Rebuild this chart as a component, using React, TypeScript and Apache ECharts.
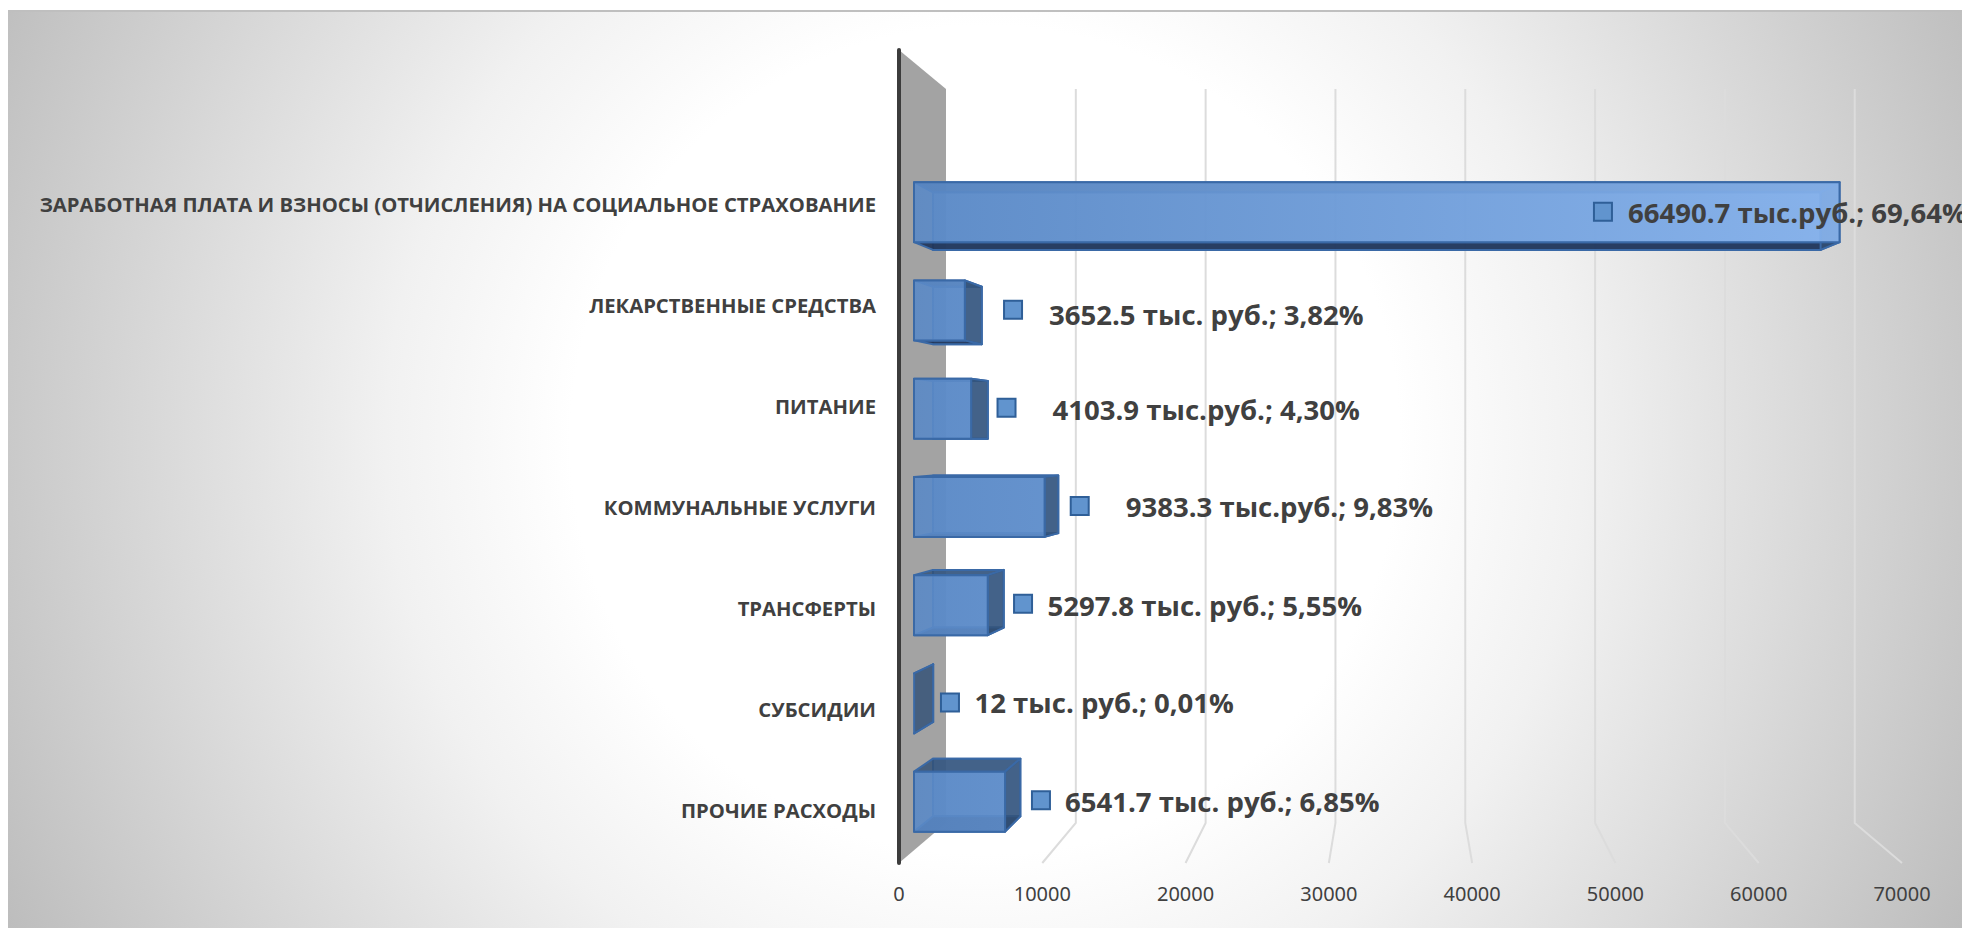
import React, { useEffect, useRef } from "react";
import * as echarts from "echarts";

const categories = [
  "ЗАРАБОТНАЯ ПЛАТА И ВЗНОСЫ (ОТЧИСЛЕНИЯ) НА СОЦИАЛЬНОЕ СТРАХОВАНИЕ",
  "ЛЕКАРСТВЕННЫЕ СРЕДСТВА",
  "ПИТАНИЕ",
  "КОММУНАЛЬНЫЕ УСЛУГИ",
  "ТРАНСФЕРТЫ",
  "СУБСИДИИ",
  "ПРОЧИЕ РАСХОДЫ",
];
const values = [66490.7, 3652.5, 4103.9, 9383.3, 5297.8, 12, 6541.7];
const valueLabels = [
  "66490.7 тыс.руб.; 69,64%",
  "3652.5 тыс. руб.; 3,82%",
  "4103.9 тыс.руб.; 4,30%",
  "9383.3 тыс.руб.; 9,83%",
  "5297.8 тыс. руб.; 5,55%",
  "12 тыс. руб.; 0,01%",
  "6541.7 тыс. руб.; 6,85%",
];
const axisTicks = [0, 10000, 20000, 30000, 40000, 50000, 60000, 70000];

// hand placement of the data labels relative to the bar end: marker dx, text gap, dy
const markerDx = [-245.6, 39.2, 26.4, 26.1, 26.3, 26.8, 26.9];
const textGap = [34, 45, 55, 55, 33.5, 33.5, 33];
const markerDy = [-0.5, -0.7, -1, -1, -1.3, -1, -1.5];
const textDy = [0, 4, 0.5, -0.5, 0, -1, -0.5];

const FONT = "Open Sans";
const TEXT = "#404040";
const VALUE_SCALE = 1.02;

// perspective of the back plane relative to the front plane of the bars
const backX = (x: number) => 933 + (x - 914) * 0.959;
const backY = (y: number) => 221 + (y - 212) * 0.9608;
// back wall relative to the axis plane
const wallX = (x: number) => 946 + (x - 899) * 0.906;

const App = () => {
  const ref = useRef<HTMLDivElement>(null);
  useEffect(() => {
    const chart = echarts.init(ref.current!, null, { renderer: "svg" });
    const frontFill = new echarts.graphic.LinearGradient(
      914, 0, 1840, 0,
      [
        { offset: 0, color: "rgba(90,137,198,0.9)" },
        { offset: 1, color: "rgba(136,180,238,0.9)" },
      ],
      true
    );
    const edge = "#3a69a6";
    chart.setOption({
      animation: false,
      graphic: [
        {
          type: "rect",
          z: -10,
          silent: true,
          shape: { x: 8, y: 10, width: 1954, height: 918 },
          style: {
            fill: new echarts.graphic.RadialGradient(
              985, 440, 1090,
              [
                { offset: 0, color: "#ffffff" },
                { offset: 0.38, color: "#ffffff" },
                { offset: 0.55, color: "#f1f1f1" },
                { offset: 0.75, color: "#dadada" },
                { offset: 1, color: "#bdbdbd" },
              ],
              true
            ),
          },
        },
        {
          type: "line",
          z: -9,
          silent: true,
          shape: { x1: 8, y1: 11, x2: 1962, y2: 11 },
          style: { stroke: "#bfbfbf", lineWidth: 2 },
        },
      ],
      grid: [
        { left: 899, width: 1003, top: 50, height: 813, containLabel: false },
        { left: 899, width: 1003, top: 153.5, height: 707, containLabel: false },
        { left: 914, width: 974.4, top: 163, height: 687.75, containLabel: false },
      ],
      xAxis: [
        {
          gridIndex: 0,
          type: "value",
          min: 0,
          max: 70000,
          interval: 10000,
          axisLine: { show: false },
          axisTick: { show: false },
          splitLine: { show: false },
          axisLabel: {
            margin: 20,
            fontFamily: "Noto Sans",
            fontSize: 20,
            color: TEXT,
            formatter: (v: number) => String(v),
          },
        },
        { gridIndex: 1, type: "value", min: 0, max: 70000, show: false },
        { gridIndex: 2, type: "value", min: 0, max: 70000, show: false },
      ],
      yAxis: [
        {
          gridIndex: 0,
          type: "value",
          min: 0,
          max: 1,
          z: 3,
          axisLine: { show: true, lineStyle: { color: "#3c3c3c", width: 4 } },
          axisTick: { show: false },
          axisLabel: { show: false },
          splitLine: { show: false },
        },
        {
          gridIndex: 1,
          type: "category",
          inverse: true,
          data: categories,
          axisLine: { show: false },
          axisTick: { show: false },
          axisLabel: {
            margin: 23,
            fontFamily: FONT,
            fontWeight: "bold",
            fontSize: 20.25,
            color: TEXT,
          },
        },
        { gridIndex: 2, type: "category", inverse: true, data: categories, show: false },
      ],
      series: [
        {
          type: "custom",
          name: "wall",
          xAxisIndex: 0,
          yAxisIndex: 0,
          z: 1,
          silent: true,
          clip: false,
          data: axisTicks.map((t) => [t, 0]),
          renderItem: (_: any, api: any) => {
            const [x, yBottom] = api.coord([api.value(0), 0]);
            const [, yTop] = api.coord([api.value(0), 1]);
            const bx = wallX(x);
            const backTop = yTop + 39;
            const backBottom = yBottom - 40;
            if (api.value(0) === 0) {
              return {
                type: "polygon",
                shape: {
                  points: [
                    [x, yTop],
                    [bx, backTop],
                    [bx, backBottom],
                    [x, yBottom],
                  ],
                },
                style: { fill: "#a3a3a3" },
              };
            }
            return {
              type: "polyline",
              shape: {
                points: [
                  [bx, backTop],
                  [bx, backBottom],
                  [x, yBottom],
                ],
              },
              style: { fill: "none", stroke: "#dcdcdc", lineWidth: 2 },
            };
          },
        },
        {
          type: "custom",
          name: "bars",
          xAxisIndex: 2,
          yAxisIndex: 2,
          z: 4,
          silent: true,
          clip: false,
          data: values.map((v, i) => [v, i]),
          renderItem: (_: any, api: any) => {
            const [xEnd, yMid] = api.coord([api.value(0), api.value(1)]);
            const [x0] = api.coord([0, api.value(1)]);
            const half = 30;
            const ft = yMid - half;
            const fb = yMid + half;
            const bx0 = backX(x0);
            const bx1 = backX(xEnd);
            const bt = backY(ft);
            const bb = backY(fb);
            const poly = (pts: number[][], fill: any) => ({
              type: "polygon",
              shape: { points: pts },
              style: { fill, stroke: edge, lineWidth: 2, lineJoin: "round" },
            });
            const side = "rgba(50,80,118,0.82)";
            const under = "rgba(32,52,88,0.92)";
            const children: any[] = [
              poly(
                [[bx0, bt], [bx1, bt], [bx1, bb], [bx0, bb]],
                "rgba(96,142,204,0.7)"
              ),
              poly([[x0, ft], [xEnd, ft], [bx1, bt], [bx0, bt]], side),
              poly([[x0, fb], [xEnd, fb], [bx1, bb], [bx0, bb]], under),
              poly([[xEnd, ft], [bx1, bt], [bx1, bb], [xEnd, fb]], side),
            ];
            if (api.value(0) > 100) {
              children.push(poly([[x0, ft], [xEnd, ft], [xEnd, fb], [x0, fb]], frontFill));
            }
            return { type: "group", children };
          },
        },
        {
          type: "custom",
          name: "labels",
          xAxisIndex: 2,
          yAxisIndex: 2,
          z: 5,
          silent: true,
          clip: false,
          data: values.map((v, i) => [v, i]),
          renderItem: (p: any, api: any) => {
            const i = p.dataIndex;
            const [xEnd, yMid] = api.coord([api.value(0), api.value(1)]);
            const mx = xEnd + markerDx[i];
            return {
              type: "group",
              children: [
                {
                  type: "rect",
                  shape: { x: mx, y: yMid + markerDy[i] - 9, width: 18, height: 18 },
                  style: { fill: "#6194ce", stroke: "#2f5f98", lineWidth: 2 },
                },
                {
                  type: "text",
                  x: mx + textGap[i],
                  y: yMid + textDy[i],
                  scaleX: VALUE_SCALE,
                  style: {
                    text: valueLabels[i],
                    fontFamily: FONT,
                    fontWeight: "bold",
                    fontSize: 27,
                    fill: TEXT,
                    verticalAlign: "middle",
                    align: "left",
                  },
                },
              ],
            };
          },
        },
      ],
    });
    return () => chart.dispose();
  }, []);
  return (
    <div
      ref={ref}
      style={{ position: "absolute", left: 0, top: 0, width: 1962, height: 928, overflow: "hidden" }}
    />
  );
};

export default App;
